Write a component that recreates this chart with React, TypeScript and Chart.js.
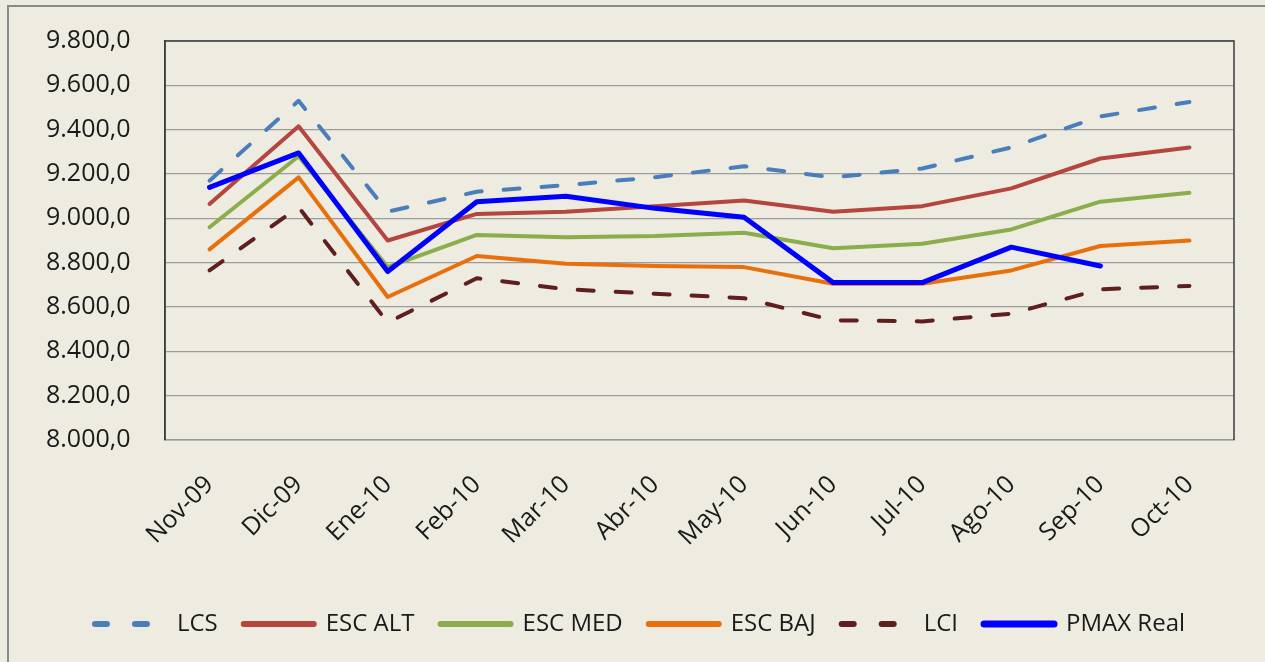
import React, { useEffect, useRef } from "react";
import { Chart, registerables } from "chart.js";

Chart.register(...registerables);

const categories = ["Nov-09", "Dic-09", "Ene-10", "Feb-10", "Mar-10", "Abr-10", "May-10", "Jun-10", "Jul-10", "Ago-10", "Sep-10", "Oct-10"];
const lcs = [9170, 9530, 9030, 9120, 9150, 9185, 9235, 9185, 9225, 9320, 9460, 9525];
const escAlt = [9065, 9415, 8900, 9020, 9030, 9055, 9080, 9030, 9055, 9135, 9270, 9320];
const escMed = [8960, 9280, 8780, 8925, 8915, 8920, 8935, 8865, 8885, 8950, 9075, 9115];
const escBaj = [8860, 9185, 8645, 8830, 8795, 8785, 8780, 8705, 8705, 8765, 8875, 8900];
const lci = [8765, 9050, 8530, 8730, 8680, 8660, 8640, 8540, 8535, 8570, 8680, 8695];
const pmaxReal = [9140, 9295, 8760, 9075, 9100, 9045, 9005, 8710, 8710, 8870, 8785, null];

const yMin = 8000;
const yMax = 9800;
const yStep = 200;

const BG = "#eeebe0";
const TEXT = "#1a1a1a";
const FONT = "'Open Sans', sans-serif";

function fmt(v: number): string {
  const s = Math.round(v).toString();
  const withDots = s.replace(/\B(?=(\d{3})+(?!\d))/g, ".");
  return withDots + ",0";
}

const framePlugin = {
  id: "frame",
  beforeDatasetsDraw(chart: any) {
    const { ctx, chartArea } = chart;
    const { left, top, right, bottom } = chartArea;
    ctx.save();
    ctx.strokeStyle = "#3c3c3c";
    ctx.lineWidth = 1.5;
    ctx.beginPath();
    ctx.moveTo(left, bottom);
    ctx.lineTo(left, top);
    ctx.lineTo(right, top);
    ctx.lineTo(right, bottom);
    ctx.stroke();
    ctx.restore();
  },
};

export default function App() {
  const ref = useRef<HTMLCanvasElement | null>(null);

  useEffect(() => {
    if (!ref.current) return;
    const mk = (label: string, data: any[], color: string, width: number, dash: number[], order: number) => ({
      label,
      data,
      borderColor: color,
      backgroundColor: color,
      borderWidth: width,
      borderDash: dash,
      borderCapStyle: "round",
      borderJoinStyle: "round",
      pointRadius: 0,
      pointHoverRadius: 0,
      tension: 0,
      fill: false,
      spanGaps: false,
      order,
    });
    const chart = new Chart(ref.current, {
      type: "line",
      data: {
        labels: categories,
        datasets: [
          mk("LCS", lcs, "#4a7ebb", 4, [16, 22], 6),
          mk("ESC ALT", escAlt, "#b4453f", 4, [], 5),
          mk("ESC MED", escMed, "#8cad4b", 4, [], 4),
          mk("ESC BAJ", escBaj, "#e8700c", 4, [], 3),
          mk("LCI", lci, "#5e1f1e", 4, [16, 22], 2),
          mk("PMAX Real", pmaxReal, "#0000ff", 5, [], 1),
        ] as any,
      },
      options: {
        responsive: false,
        animation: false,
        maintainAspectRatio: false,
        layout: { padding: { left: 46, top: 41, right: 31, bottom: 16 } },
        plugins: {
          tooltip: { enabled: false },
          legend: {
            position: "bottom",
            labels: {
              usePointStyle: true,
              pointStyle: "line",
              pointStyleWidth: 70,
              padding: 26,
              color: TEXT,
              font: { family: FONT, size: 24 },
              sort: (a: any, b: any) => a.datasetIndex - b.datasetIndex,
              generateLabels: (chart: any) =>
                (Chart.defaults.plugins.legend.labels.generateLabels as any)(chart).map((l: any) => {
                  const ds = chart.data.datasets[l.datasetIndex];
                  const dashed = ds.borderDash && ds.borderDash.length > 0;
                  return {
                    ...l,
                    lineWidth: ds.borderWidth + 2,
                    lineCap: "round",
                    lineDash: dashed ? [12, 28] : [],
                    strokeStyle: ds.borderColor,
                    fillStyle: ds.borderColor,
                    pointStyle: "line",
                  };
                }),
            },
          },
        },
        scales: {
          x: {
            offset: true,
            grid: { display: false, drawTicks: false },
            border: { display: true, color: "#999999", width: 1.5 },
            ticks: {
              autoSkip: false,
              maxRotation: 45,
              minRotation: 45,
              padding: 30,
              color: TEXT,
              font: { family: FONT, size: 25 },
            },
            afterFit: (scale: any) => {
              scale.height = 146;
            },
          },
          y: {
            min: yMin,
            max: yMax,
            grid: { color: "#9c9c9c", lineWidth: 1.3, drawTicks: false },
            border: { display: true, color: "#3c3c3c", width: 1.5 },
            ticks: {
              stepSize: yStep,
              padding: 2,
              crossAlign: "far",
              color: TEXT,
              font: { family: FONT, size: 25 },
              callback: (v: any) => fmt(Number(v)),
            },
            afterFit: (scale: any) => {
              scale.width = 119;
            },
          },
        },
      },
      plugins: [framePlugin],
    });
    return () => chart.destroy();
  }, []);

  return (
    <div style={{ position: "absolute", left: 0, top: 0, width: 1265, height: 662, background: BG, overflow: "hidden" }}>
      <div
        style={{
          position: "absolute",
          left: 7,
          top: 5,
          width: 1300,
          height: 700,
          borderLeft: "2px solid #8a8a8a",
          borderTop: "2px solid #8a8a8a",
        }}
      />
      <canvas ref={ref} width={1265} height={662} style={{ position: "absolute", left: 0, top: 0, display: "block" }} />
    </div>
  );
}
